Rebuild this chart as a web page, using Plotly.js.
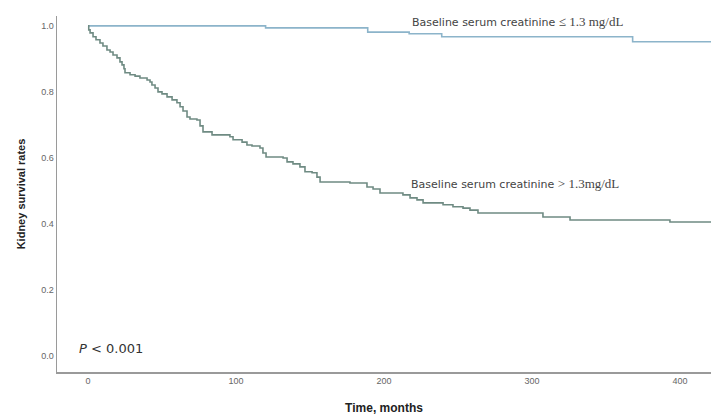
<!DOCTYPE html>
<html>
<head>
<meta charset="utf-8">
<script src="https://cdn.plot.ly/plotly-3.0.1.min.js"></script>
<style>html,body{margin:0;padding:0;background:#fff;}#chart{width:711px;height:420px;}</style>
</head>
<body>
<div id="chart"></div>
<script>
// Baseline serum creatinine <= 1.3 mg/dL
const lowCrTime = [0, 120, 189, 217, 239, 368, 425];
const lowCrSurv = [1.0, 0.994, 0.981, 0.976, 0.967, 0.952, 0.952];

// Baseline serum creatinine > 1.3 mg/dL
const highCrTime = [0, 0.5, 1.4, 3.4, 5.4, 8.1, 10.1, 12.8, 14.9, 16.9, 19.6, 21.6, 23.0, 24.3, 25.0,
  28.4, 31.8, 35.1, 39.9, 41.9, 43.2, 45.3, 47.3, 50.0, 53.4, 56.8, 60.1, 62.2, 64.2, 66.9, 68.9,
  73.6, 75.7, 77.7, 83.8, 95.9, 98.0, 104.1, 107.4, 110.8, 116.2, 118.2, 120.3, 131.8, 134.5, 138.5,
  143.2, 146.6, 151.4, 154.7, 156.8, 177.0, 188.5, 192.6, 197.3, 212.8, 217.6, 222.3, 226.4, 239.9,
  246.6, 253.4, 258.1, 263.5, 307.4, 325.7, 393.2, 425];
const highCrSurv = [1.0, 0.988, 0.979, 0.967, 0.958, 0.948, 0.939, 0.927, 0.921, 0.912, 0.903, 0.891, 0.882, 0.870, 0.858,
  0.852, 0.848, 0.842, 0.836, 0.830, 0.821, 0.812, 0.800, 0.794, 0.785, 0.776, 0.767, 0.755, 0.742, 0.724, 0.718,
  0.715, 0.697, 0.679, 0.670, 0.664, 0.655, 0.648, 0.639, 0.636, 0.630, 0.615, 0.603, 0.600, 0.588, 0.582,
  0.573, 0.558, 0.555, 0.542, 0.527, 0.524, 0.512, 0.506, 0.494, 0.488, 0.479, 0.473, 0.464, 0.458,
  0.452, 0.448, 0.442, 0.433, 0.421, 0.412, 0.406, 0.406];

const xTickVals = [0, 100, 200, 300, 400];
const yTickVals = [0, 0.2, 0.4, 0.6, 0.8, 1.0];
const yTickText = ['0.0', '0.2', '0.4', '0.6', '0.8', '1.0'];

const traces = [
  {x: lowCrTime, y: lowCrSurv, mode: 'lines', line: {shape: 'hv', color: '#8cb4ca', width: 1.6}, hoverinfo: 'skip'},
  {x: highCrTime, y: highCrSurv, mode: 'lines', line: {shape: 'hv', color: '#6f8b83', width: 1.6}, hoverinfo: 'skip'}
];

const serif = 'font-family:\'Liberation Serif\';font-size:13px';

const layout = {
  width: 711, height: 420,
  margin: {l: 57, r: 0, t: 16, b: 48},
  paper_bgcolor: '#fff', plot_bgcolor: '#fff',
  showlegend: false,
  font: {family: 'Liberation Sans, Arial, sans-serif'},
  xaxis: {
    range: [-20.95, 420.95], tickvals: xTickVals, ticks: '', showgrid: false, zeroline: false,
    showline: true, linecolor: '#9a9a9a', linewidth: 1.5,
    tickfont: {size: 9, color: '#666'},
    title: {text: '<b>Time, months</b>', font: {size: 12, color: '#222'}, standoff: 18}
  },
  yaxis: {
    range: [-0.0485, 1.030], tickvals: yTickVals, ticktext: yTickText, ticks: '', showgrid: false, zeroline: false,
    showline: true, linecolor: '#9a9a9a', linewidth: 1.5,
    tickfont: {size: 9, color: '#666'},
    title: {text: '<b>Kidney survival rates</b>', font: {size: 11, color: '#222'}, standoff: 13}
  },
  annotations: [
    {x: 217.6, y: 1.012, xref: 'x', yref: 'y', xanchor: 'left', yanchor: 'middle', showarrow: false,
     text: 'Baseline serum creatinine <span style="' + serif + '">&#8804; 1.3 mg/dL</span>',
     font: {family: 'DejaVu Sans, sans-serif', size: 11, color: '#444'}},
    {x: 217, y: 0.524, xref: 'x', yref: 'y', xanchor: 'left', yanchor: 'middle', showarrow: false,
     text: 'Baseline serum creatinine <span style="' + serif + '">&gt; 1.3mg/dL</span>',
     font: {family: 'DejaVu Sans, sans-serif', size: 11, color: '#444'}},
    {x: -7.4, y: 0.024, xref: 'x', yref: 'y', xanchor: 'left', yanchor: 'middle', showarrow: false,
     text: '<i>P</i> &lt; 0.001', font: {family: 'DejaVu Sans, sans-serif', size: 13, color: '#333'}}
  ]
};

Plotly.newPlot('chart', traces, layout, {displayModeBar: false, staticPlot: true});
</script>
</body>
</html>
